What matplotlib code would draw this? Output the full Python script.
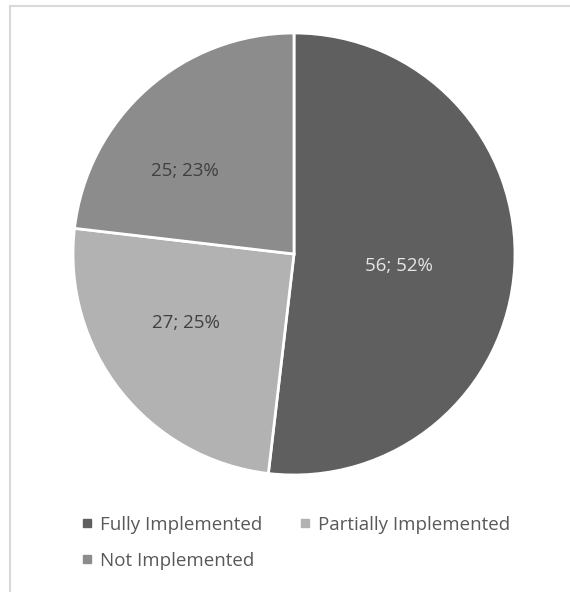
import matplotlib
matplotlib.use("Agg")
import matplotlib.pyplot as plt
import numpy as np
from matplotlib.lines import Line2D

plt.rcParams['font.family'] = ['Open Sans', 'DejaVu Sans']

categories = ["Fully Implemented", "Partially Implemented", "Not Implemented"]
counts = [56, 27, 25]
percents = [52, 25, 23]
colors = ["#5f5f5f", "#b2b2b2", "#8c8c8c"]
label_colors = ["#e6e6e6", "#404040", "#404040"]

fig = plt.figure(figsize=(5.70, 5.92), dpi=100)

# light frame on the left/top like the original
frame = fig.add_axes([10/570, -0.1, 1.2, 1 - 6/592 + 0.1])
frame.set_xticks([]); frame.set_yticks([])
frame.patch.set_alpha(0)
for s in frame.spines.values():
    s.set_color("#d9d9d9"); s.set_linewidth(1.5)

cx, cy, r = 294, 254, 221
ax = fig.add_axes([(cx - r)/570, 1 - (cy + r)/592, 2*r/570, 2*r/592])
wedges, _ = ax.pie(counts, colors=colors, startangle=90, counterclock=False,
                   wedgeprops=dict(edgecolor="white", linewidth=2))
ax.set_xlim(-1, 1); ax.set_ylim(-1, 1)
ax.set_aspect("equal")

dists = [0.48, 0.58, 0.62]
shifts = [-3, -6, 11]
for w, c, p, d, sh, lc in zip(wedges, counts, percents, dists, shifts, label_colors):
    ang = np.deg2rad((w.theta1 + w.theta2) / 2 + sh)
    ax.text(d*np.cos(ang), d*np.sin(ang), f"{c}; {p}%", ha="center", va="center",
            fontsize=13.5, color=lc)

handles = [Line2D([], [], marker="s", linestyle="none", markersize=6,
                  markerfacecolor=c, markeredgecolor=c) for c in colors]
# reorder so legend fills row by row
order = [0, 2, 1]
fig.legend([handles[i] for i in order], [categories[i] for i in order], ncol=2,
           loc="upper left", bbox_to_anchor=(63/570, 1 - 499/592), frameon=False,
           fontsize=13.5, labelcolor="#595959", handletextpad=0.3,
           columnspacing=1.85, handlelength=0.8, labelspacing=0.95)

fig.savefig("out.png", dpi=100)
